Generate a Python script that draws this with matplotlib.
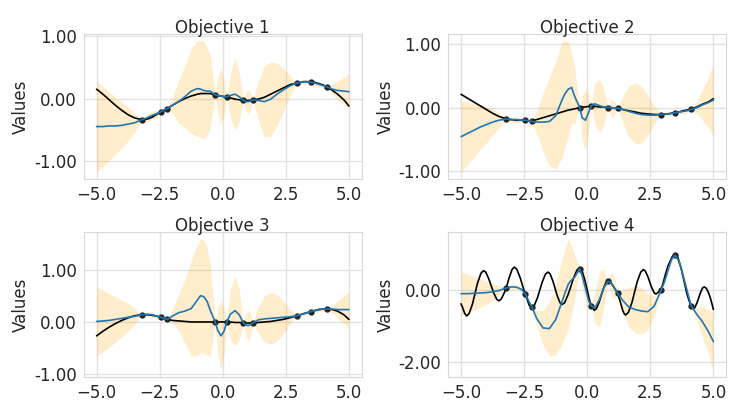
import numpy as np
import seaborn as sns
from matplotlib import pyplot as plt
from matplotlib.ticker import FormatStrFormatter, MaxNLocator

# ==============================================================================
#                                                                           DATA
# ==============================================================================
# observed points (same x for all objectives)
x_obs = [-3.21, -2.45, -2.19, -0.30, 0.16, 0.82, 1.20, 2.93, 3.48, 4.12]
y_obs1 = [-0.34, -0.21, -0.16, 0.06, 0.03, -0.03, -0.02, 0.25, 0.27, 0.19]
y_obs2 = [-0.18, -0.20, -0.22, 0.00, 0.03, 0.00, -0.01, -0.11, -0.08, -0.03]
y_obs3 = [0.14, 0.09, 0.05, 0.00, 0.00, -0.02, -0.02, 0.12, 0.20, 0.25]
y_obs4 = [0.06, -0.11, -0.47, 0.59, -0.44, 0.24, -0.08, 0.00, 0.97, -0.44]

x_grid = [-5.0, -4.75, -4.5, -4.25, -4.0,
          -3.75, -3.5, -3.21, -3.0, -2.8,
          -2.6, -2.45, -2.32, -2.19, -2.0,
          -1.75, -1.5, -1.25, -1.0, -0.88, -0.75, -0.62,
          -0.5, -0.3, -0.2, -0.07, 0.05,
          0.16, 0.3, 0.49, 0.65, 0.82,
          0.92, 1.01, 1.1, 1.2, 1.4,
          1.65, 1.9, 2.15, 2.4, 2.65,
          2.93, 3.07, 3.2, 3.34, 3.48,
          3.64, 3.8, 3.96, 4.12, 4.35,
          4.55, 4.8, 5.0]

# --- objective 1
true1 = [0.15, 0.07, -0.02, -0.11, -0.19,
         -0.26, -0.31, -0.34, -0.33, -0.30,
         -0.25, -0.21, -0.19, -0.16, -0.11,
         -0.05, 0.00, 0.04, 0.07, 0.08, 0.08, 0.08,
         0.08, 0.06, 0.05, 0.04, 0.03,
         0.03, 0.01, -0.01, -0.02, -0.03,
         -0.03, -0.03, -0.03, -0.02, -0.01,
         0.02, 0.07, 0.12, 0.17, 0.22,
         0.25, 0.26, 0.27, 0.27, 0.27,
         0.26, 0.24, 0.22, 0.19, 0.13,
         0.07, -0.02, -0.12]
mean1 = [-0.45, -0.45, -0.44, -0.44, -0.43,
         -0.41, -0.39, -0.34, -0.31, -0.27,
         -0.24, -0.21, -0.18, -0.16, -0.11,
         -0.05, 0.03, 0.12, 0.16, 0.15, 0.13, 0.12,
         0.12, 0.06, 0.05, 0.04, 0.03,
         0.03, 0.05, 0.07, 0.03, -0.03,
         -0.05, -0.05, -0.04, -0.02, -0.03,
         -0.05, -0.01, 0.07, 0.14, 0.20,
         0.25, 0.26, 0.27, 0.27, 0.26,
         0.25, 0.23, 0.21, 0.19, 0.15,
         0.13, 0.12, 0.11]
width1 = [0.73, 0.64, 0.55, 0.46, 0.37,
          0.27, 0.16, 0.00, 0.06, 0.07,
          0.05, 0.00, 0.02, 0.00, 0.12,
          0.34, 0.50, 0.68, 0.77, 0.78, 0.78, 0.70,
          0.60, 0.00, 0.28, 0.45, 0.30,
          0.00, 0.35, 0.57, 0.40, 0.00,
          0.15, 0.19, 0.14, 0.00, 0.30,
          0.57, 0.60, 0.50, 0.35, 0.17,
          0.00, 0.03, 0.04, 0.03, 0.00,
          0.03, 0.04, 0.03, 0.00, 0.08,
          0.15, 0.22, 0.29]

# --- objective 2
true2 = [0.21, 0.15, 0.09, 0.03, -0.03,
         -0.09, -0.14, -0.18, -0.19, -0.20,
         -0.20, -0.20, -0.21, -0.21, -0.19,
         -0.16, -0.13, -0.10, -0.07, -0.055, -0.04, -0.03,
         -0.02, 0.00, 0.01, 0.01, 0.02,
         0.02, 0.02, 0.01, 0.01, 0.00,
         0.00, -0.01, -0.01, -0.01, -0.03,
         -0.05, -0.07, -0.09, -0.10, -0.11,
         -0.11, -0.10, -0.10, -0.09, -0.08,
         -0.07, -0.05, -0.04, -0.02, 0.01,
         0.05, 0.09, 0.14]
mean2 = [-0.46, -0.41, -0.36, -0.31, -0.27,
         -0.23, -0.20, -0.18, -0.19, -0.19,
         -0.20, -0.20, -0.21, -0.22, -0.23,
         -0.23, -0.22, -0.13, 0.12, 0.22, 0.29, 0.32,
         0.18, 0.00, -0.16, -0.20, -0.08,
         0.03, 0.06, 0.03, 0.01, 0.00,
         0.00, -0.01, -0.01, -0.01, -0.03,
         -0.06, -0.09, -0.11, -0.12, -0.12,
         -0.11, -0.10, -0.10, -0.09, -0.08,
         -0.07, -0.06, -0.05, -0.03, 0.00,
         0.04, 0.08, 0.12]
width2 = [0.56, 0.50, 0.43, 0.36, 0.29,
          0.21, 0.12, 0.00, 0.04, 0.05,
          0.03, 0.00, 0.02, 0.00, 0.18,
          0.45, 0.70, 0.85, 0.92, 0.84, 0.75, 0.55,
          0.45, 0.00, 0.35, 0.47, 0.30,
          0.00, 0.33, 0.42, 0.30, 0.00,
          0.12, 0.14, 0.10, 0.00, 0.20,
          0.40, 0.48, 0.45, 0.32, 0.15,
          0.00, 0.03, 0.04, 0.03, 0.00,
          0.03, 0.04, 0.03, 0.00, 0.10,
          0.23, 0.40, 0.57]

# --- objective 3
true3 = [-0.27, -0.18, -0.10, -0.03, 0.03,
         0.08, 0.12, 0.14, 0.14, 0.13,
         0.11, 0.09, 0.07, 0.05, 0.03,
         0.02, 0.01, 0.00, 0.00, 0.00, 0.00, 0.00,
         0.00, 0.00, 0.00, 0.00, 0.00,
         0.00, 0.00, -0.01, -0.01, -0.02,
         -0.02, -0.02, -0.02, -0.02, -0.01,
         0.00, 0.01, 0.03, 0.05, 0.08,
         0.12, 0.14, 0.16, 0.18, 0.20,
         0.22, 0.24, 0.25, 0.25, 0.24,
         0.21, 0.14, 0.05]
mean3 = [0.01, 0.02, 0.03, 0.05, 0.07,
         0.09, 0.11, 0.14, 0.15, 0.14,
         0.11, 0.09, 0.07, 0.05, 0.11,
         0.18, 0.21, 0.26, 0.43, 0.51, 0.49, 0.40,
         0.23, 0.00, -0.16, -0.27, -0.18,
         0.00, 0.15, 0.22, 0.14, -0.02,
         -0.06, -0.07, -0.05, -0.02, 0.04,
         0.06, 0.07, 0.08, 0.09, 0.10,
         0.12, 0.14, 0.16, 0.18, 0.20,
         0.22, 0.24, 0.25, 0.25, 0.25,
         0.24, 0.24, 0.24]
width3 = [0.67, 0.60, 0.52, 0.44, 0.36,
          0.27, 0.16, 0.00, 0.04, 0.05,
          0.03, 0.00, 0.02, 0.00, 0.12,
          0.35, 0.62, 0.92, 1.08, 1.10, 1.10, 1.05,
          0.90, 0.00, 0.45, 0.67, 0.45,
          0.00, 0.50, 0.68, 0.50, 0.00,
          0.22, 0.30, 0.22, 0.00, 0.25,
          0.45, 0.50, 0.45, 0.32, 0.15,
          0.00, 0.03, 0.04, 0.03, 0.00,
          0.03, 0.04, 0.03, 0.00, 0.08,
          0.17, 0.27, 0.35]

# --- objective 4 (true function wiggles fast, read on its own x)
x_true4 = [-5.0, -4.93, -4.86, -4.78, -4.68,
           -4.545, -4.445, -4.345, -4.21, -4.11,
           -4.02, -3.90, -3.805, -3.71, -3.59,
           -3.50, -3.41, -3.29, -3.21, -3.10,
           -2.98, -2.89, -2.79, -2.65, -2.545,
           -2.45, -2.30, -2.20, -2.10, -1.97,
           -1.875, -1.78, -1.65, -1.55, -1.47,
           -1.36, -1.275, -1.19, -1.08, -1.00,
           -0.895, -0.755, -0.65, -0.545, -0.405,
           -0.30, -0.21, -0.10, -0.01, 0.077,
           0.16, 0.28, 0.36, 0.47, 0.555,
           0.64, 0.75, 0.83, 0.93, 1.05,
           1.20, 1.30, 1.40, 1.46, 1.52,
           1.63, 1.77, 1.875, 1.98, 2.12,
           2.23, 2.30, 2.40, 2.475, 2.55,
           2.65, 2.72, 2.83, 2.93, 3.10,
           3.21, 3.37, 3.48, 3.59, 3.73,
           3.84, 3.95, 4.04, 4.12, 4.20,
           4.27, 4.35, 4.42, 4.49, 4.57,
           4.64, 4.72, 4.80, 4.88, 4.95,
           5.0]
true4 = [-0.38, -0.50, -0.64, -0.72, -0.65,
         -0.38, -0.09, 0.20, 0.47, 0.54,
         0.50, 0.31, 0.12, -0.07, -0.25,
         -0.30, -0.25, -0.08, 0.06, 0.33,
         0.57, 0.64, 0.58, 0.33, 0.08,
         -0.11, -0.42, -0.48, -0.43, -0.21,
         0.01, 0.23, 0.45, 0.50, 0.45,
         0.25, 0.05, -0.15, -0.35, -0.40,
         -0.35, -0.12, 0.10, 0.33, 0.56,
         0.61, 0.55, 0.29, 0.03, -0.24,
         -0.44, -0.56, -0.52, -0.34, -0.15,
         0.04, 0.22, 0.26, 0.22, 0.09,
         -0.08, -0.30, -0.55, -0.65, -0.69,
         -0.62, -0.35, -0.06, 0.23, 0.50,
         0.57, 0.53, 0.38, 0.23, 0.08,
         -0.07, -0.11, -0.05, 0.00, 0.44,
         0.69, 0.93, 0.99, 0.91, 0.58,
         0.24, -0.10, -0.30, -0.44, -0.51,
         -0.48, -0.35, -0.21, -0.07, 0.06,
         0.09, 0.05, -0.06, -0.22, -0.40,
         -0.54]
mean4 = [-0.10, -0.10, -0.09, -0.08, -0.07,
         -0.05, -0.01, 0.06, 0.09, 0.08,
         0.02, -0.11, -0.30, -0.47, -0.79,
         -1.05, -1.07, -0.82, -0.32, -0.08, 0.17, 0.28,
         0.36, 0.59, 0.40, 0.05, -0.28,
         -0.44, -0.50, -0.25, 0.05, 0.24,
         0.22, 0.13, 0.03, -0.08, -0.28,
         -0.47, -0.54, -0.58, -0.60, -0.45,
         0.00, 0.25, 0.55, 0.85, 0.97,
         0.80, 0.40, -0.02, -0.44, -0.68,
         -0.86, -1.15, -1.43]
width4 = [0.61, 0.54, 0.47, 0.40, 0.32,
          0.24, 0.14, 0.00, 0.06, 0.07,
          0.05, 0.00, 0.03, 0.00, 0.22,
          0.48, 0.75, 0.98, 1.18, 1.22, 1.25, 0.95,
          0.62, 0.00, 0.30, 0.40, 0.30,
          0.00, 0.40, 0.78, 0.55, 0.00,
          0.25, 0.35, 0.25, 0.00, 0.28,
          0.55, 0.65, 0.65, 0.50, 0.28,
          0.00, 0.07, 0.09, 0.07, 0.00,
          0.10, 0.15, 0.10, 0.00, 0.18,
          0.40, 0.60, 0.80]

titles = ["Objective 1", "Objective 2", "Objective 3", "Objective 4"]


# ==============================================================================
#                                                                 PLOT_OBJECTIVE
# ==============================================================================
def plot_objective(ax, title, x_true, y_true, mean, width, y_obs):
    """ GP style panel: uncertainty band, true function, mean and samples """
    x = np.array(x_grid)
    mean = np.array(mean)
    width = np.array(width)
    ax.fill_between(x, mean - width, mean + width, color="#ffa500",
                    alpha=0.2, linewidth=0)
    ax.plot(x_true, y_true, color="black", linewidth=1.2)
    ax.plot(x_obs, y_obs, "o", color="#222222", markersize=3.5)
    ax.plot(x, mean, color="#1f77b4", linewidth=1.2)
    ax.set_title(title, fontsize=12, pad=1)
    ax.set_ylabel("Values", fontsize=12, labelpad=3)
    ax.yaxis.set_major_locator(MaxNLocator(3, steps=[1, 2, 5, 10]))
    ax.yaxis.set_major_formatter(FormatStrFormatter("%.2f"))
    ax.tick_params(labelsize=12, pad=1.5)
    ax.grid(color="#e2e2e2", linewidth=1)
    for spine in ax.spines.values():
        spine.set_color("#d8d8d8")


sns.set_style("whitegrid")
plt.rcParams['font.family'] = ['DejaVu Sans']

fig, axes = plt.subplots(2, 2, figsize=(7.47, 4.15), dpi=100)
fig.subplots_adjust(left=0.1124, right=0.9719, top=0.918, bottom=0.0916,
                    wspace=0.313, hspace=0.372)

plot_objective(axes[0, 0], titles[0], x_grid, true1, mean1, width1, y_obs1)
plot_objective(axes[0, 1], titles[1], x_grid, true2, mean2, width2, y_obs2)
plot_objective(axes[1, 0], titles[2], x_grid, true3, mean3, width3, y_obs3)
plot_objective(axes[1, 1], titles[3], x_true4, true4, mean4, width4, y_obs4)

fig.savefig("out.png", dpi=100)
